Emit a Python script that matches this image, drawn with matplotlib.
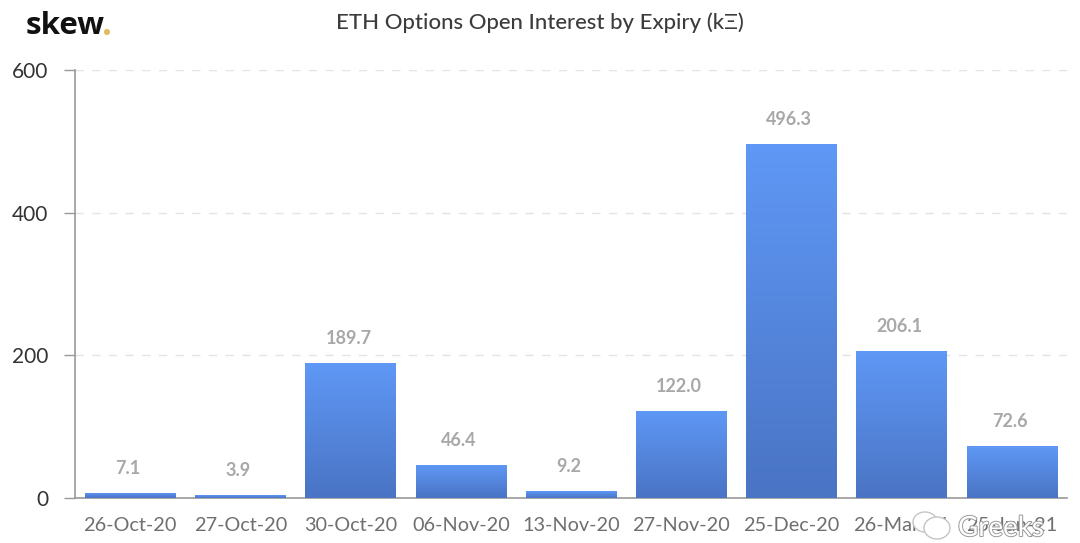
import numpy as np
import matplotlib
matplotlib.use("Agg")
import matplotlib.pyplot as plt
from matplotlib.colors import LinearSegmentedColormap
from matplotlib.patches import Ellipse
import matplotlib.patheffects as pe

expiries = ["26-Oct-20", "27-Oct-20", "30-Oct-20", "06-Nov-20", "13-Nov-20",
            "27-Nov-20", "25-Dec-20", "26-Mar-21", "25-Jun-21"]
open_interest = [7.1, 3.9, 189.7, 46.4, 9.2, 122.0, 496.3, 206.1, 72.6]
y_ticks = [0, 200, 400, 600]

plt.rcParams['font.family'] = ['Lato', 'DejaVu Sans']

W, H = 1080, 543
fig = plt.figure(figsize=(W / 100, H / 100), dpi=100)
ax = fig.add_axes([75 / W, 1 - 498 / H, (1067 - 75) / W, (498 - 70) / H])

x = np.arange(len(expiries))
bars = ax.bar(x, open_interest, width=0.82, color="#5585dc", zorder=2)

# gradient fill, clipped to each bar
cmap = LinearSegmentedColormap.from_list("bar", ["#5f98f6", "#4a74c4"])
grad = np.linspace(0, 1, 256).reshape(-1, 1)
for b in bars:
    im = ax.imshow(grad, cmap=cmap, aspect='auto', zorder=3,
                   extent=[b.get_x(), b.get_x() + b.get_width(), 0, b.get_height()])
    im.set_clip_path(b)

ax.set_xlim(-0.5, len(expiries) - 0.5)
ax.set_ylim(0, 600)

for xi, v in zip(x, open_interest):
    ax.annotate(f"{v:.1f}", (xi, v), xytext=(-2, 16), textcoords="offset pixels",
                ha='center', va='bottom', fontsize=13, color="#a8a8a8",
                fontweight='bold', zorder=5)

ax.set_yticks(y_ticks)
ax.set_xticks(x)
ax.set_xticklabels(expiries)
ax.tick_params(axis='x', length=0, pad=14, labelsize=14.3, labelcolor="#6f6f6f")
ax.tick_params(axis='y', length=8, width=1, color="#999999", pad=11,
               labelsize=15, labelcolor="#333333")
ax.grid(axis='y', color="#e4e4e4", linestyle=(0, (6, 6)), linewidth=1, zorder=0)
ax.set_axisbelow(True)

for s in ['top', 'right']:
    ax.spines[s].set_visible(False)
ax.spines['left'].set_color("#999999")
ax.spines['bottom'].set_color("#999999")
ax.spines['left'].set_linewidth(1.2)
ax.spines['bottom'].set_linewidth(1.2)

fig.text(540 / W, 1 - 23 / H, "ETH Options Open Interest by Expiry (kΞ)", ha='center',
         va='center', fontsize=15.9, color="#3c3c3c", fontweight='medium')

# logo
fig.text(26 / W, 1 - 34 / H, "skew", ha='left', va='baseline', fontsize=22.5,
         family=['Open Sans', 'DejaVu Sans'], fontweight='bold', color="#111111")
fig.text(102 / W, 1 - 35 / H, ".", ha='left', va='baseline', fontsize=25,
         family=['Open Sans', 'DejaVu Sans'], fontweight='bold', color="#e5b95c")

# watermark over the last tick labels
outline = [pe.withStroke(linewidth=1.4, foreground="#9a9a9a")]
fig.text(958 / W, 1 - 536 / H, "Greeks", ha='left', va='baseline', fontsize=20,
         color="white", path_effects=outline, zorder=10)
for cx, cy, w_, h_ in [(925, 522, 24, 20), (937, 528, 26, 22)]:
    fig.add_artist(Ellipse((cx / W, 1 - cy / H), w_ / W, h_ / H, transform=fig.transFigure,
                           facecolor="white", edgecolor="#c4c4c4", linewidth=1, zorder=9))

fig.savefig("out.png", dpi=100)
